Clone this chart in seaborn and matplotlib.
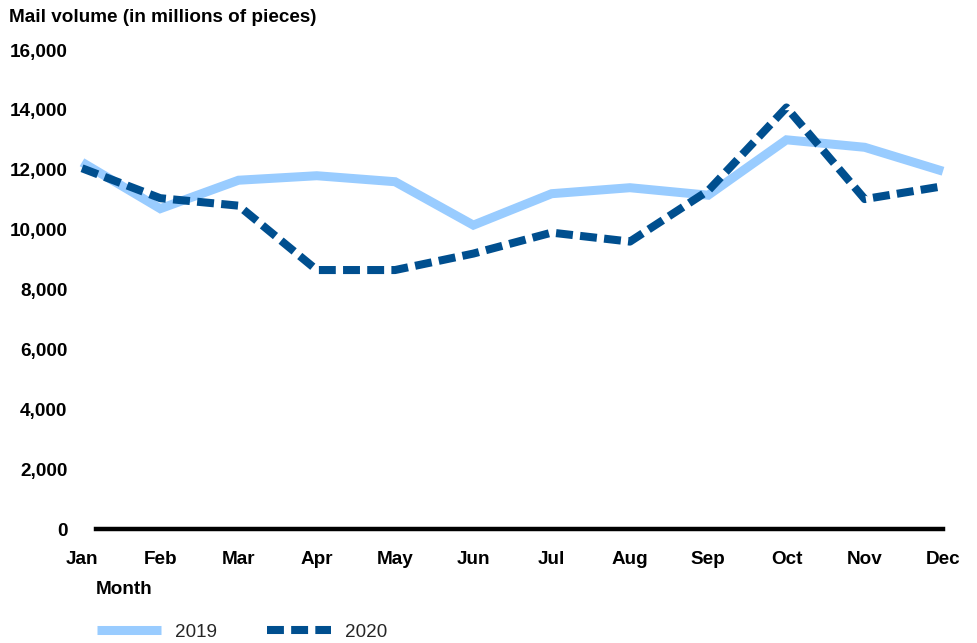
import matplotlib
matplotlib.use("Agg")
import matplotlib.pyplot as plt
import seaborn as sns
import pandas as pd
from matplotlib.ticker import FuncFormatter

months = ["Jan", "Feb", "Mar", "Apr", "May", "Jun", "Jul", "Aug", "Sep", "Oct", "Nov", "Dec"]
vol_2019 = [12250, 10700, 11650, 11800, 11600, 10150, 11200, 11400, 11150, 13000, 12750, 11950]
vol_2020 = [12050, 11050, 10800, 8650, 8650, 9200, 9900, 9600, 11300, 14080, 11020, 11450]
yticks = [0, 2000, 4000, 6000, 8000, 10000, 12000, 14000, 16000]

sns.set_theme(style="white")
plt.rcParams['font.family'] = ['Liberation Sans', 'DejaVu Sans']

df = pd.DataFrame({
    "month": months * 2,
    "idx": list(range(12)) * 2,
    "volume": vol_2019 + vol_2020,
    "year": ["2019"] * 12 + ["2020"] * 12,
})

FS = 13.6
fig = plt.figure(figsize=(9.77, 6.43), dpi=100)
ax = fig.add_axes([82 / 977, 1 - 529 / 643, (943 - 82) / 977, (529 - 50) / 643])

c19 = "#99CCFF"
c20 = "#004F8F"
sns.lineplot(data=df[df.year == "2019"], x="idx", y="volume", color=c19, lw=6.5,
             ax=ax, label="2019", solid_capstyle="butt", solid_joinstyle="miter", clip_on=False)
sns.lineplot(data=df[df.year == "2020"], x="idx", y="volume", color=c20, lw=5.8,
             ax=ax, label="2020", clip_on=False)
for ln in ax.get_lines()[1:]:
    ln.set_dashes((2.1, 0.9))
    ln.set_dash_capstyle("butt")

ax.set_xlim(0, 11)
ax.set_ylim(0, 16000)
ax.set_xticks(range(12))
ax.set_xticklabels(months)
ax.set_yticks(yticks)
ax.yaxis.set_major_formatter(FuncFormatter(lambda v, p: f"{int(v):,}"))
ax.tick_params(axis="y", length=0, pad=10.5, labelsize=FS)
ax.tick_params(axis="x", length=0, pad=15.5, labelsize=FS)
for lab in ax.get_xticklabels() + ax.get_yticklabels():
    lab.set_fontweight("bold")
    lab.set_color("black")
ax.set_xlabel("")
ax.set_ylabel("")
for s in ["top", "right", "left"]:
    ax.spines[s].set_visible(False)
ax.spines["bottom"].set_color("black")
ax.spines["bottom"].set_linewidth(3.2)
ax.spines["bottom"].set_bounds(14 / 78.27, 11)
ax.spines["bottom"].set_zorder(0.5)
ax.grid(False)

fig.text(9 / 977, 1 - 18 / 643, "Mail volume (in millions of pieces)", fontsize=FS,
         fontweight="bold", ha="left", va="center", color="black")
fig.text(96 / 977, 1 - 590 / 643, "Month", fontsize=FS, fontweight="bold",
         ha="left", va="center", color="black")

handles, labels = ax.get_legend_handles_labels()
ax.get_legend().remove()
leg = fig.legend(handles, labels, loc="center left", bbox_to_anchor=(80 / 977, 1 - 632 / 643),
                 ncol=2, frameon=False, fontsize=FS, handlelength=3.4, handletextpad=0.75,
                 columnspacing=2.6)

fig.savefig("out.png", dpi=100)
